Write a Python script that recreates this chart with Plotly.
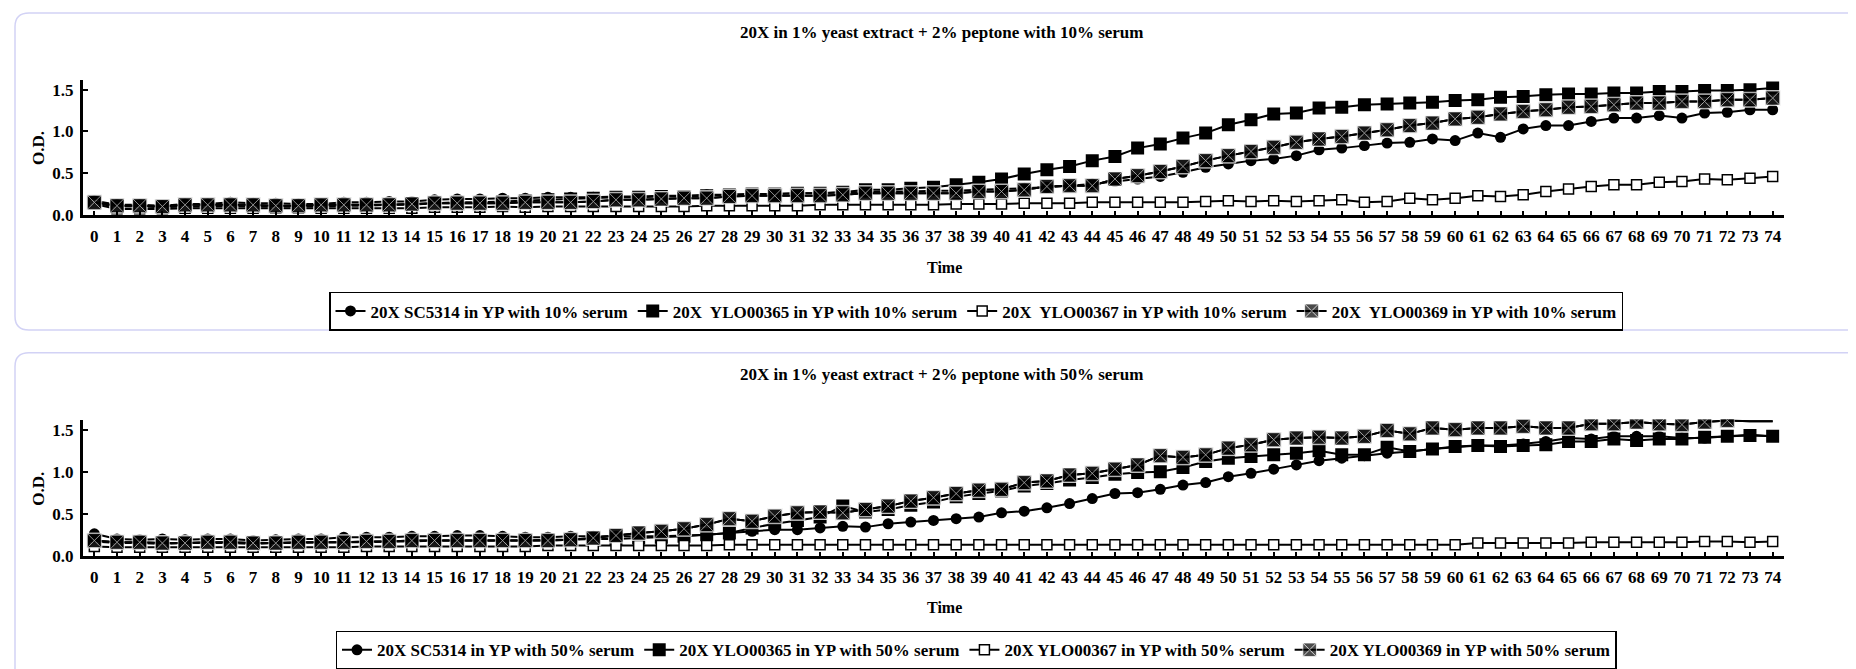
import plotly.graph_objects as go

hours = list(range(75))
tick_labels = [str(h) for h in hours]

titles = ["20X in 1% yeast extract + 2% peptone with 10% serum",
          "20X in 1% yeast extract + 2% peptone with 50% serum"]

names_10 = ["20X SC5314 in YP with 10% serum",
            "20X\u00a0 YLO00365 in YP with 10% serum",
            "20X\u00a0 YLO00367 in YP with 10% serum",
            "20X\u00a0 YLO00369 in YP with 10% serum"]
names_50 = ["20X SC5314 in YP with 50% serum",
            "20X YLO00365 in YP with 50% serum",
            "20X YLO00367 in YP with 50% serum",
            "20X YLO00369 in YP with 50% serum"]

sc5314_10 = [0.17,0.12,0.12,0.11,0.13,0.13,0.15,0.14,0.14,0.13,0.13,0.15,0.15,0.16,0.16,0.18,0.19,0.19,0.20,0.20,0.21,0.21,
             0.21,0.22,0.22,0.23,0.23,0.24,0.24,0.25,0.25,0.26,0.26,0.27,0.27,0.28,0.28,0.29,0.29,0.30,0.31,
             0.32,0.33,0.35,0.37,0.40,0.43,0.46,0.51,
             0.57,0.61,0.65,0.67,0.71,0.78,0.80,0.83,0.86,0.87,0.91,0.89,0.98,0.93,1.03,1.07,1.07,1.12,1.16,1.16,1.19,1.16,1.22,1.23,1.26,1.26]
ylo365_10 = [0.14,0.10,0.10,0.09,0.10,0.10,0.11,0.10,0.10,0.10,0.10,0.11,0.11,0.12,0.12,0.14,0.15,0.15,0.16,0.17,0.18,0.19,
             0.20,0.21,0.21,0.22,0.22,0.23,0.24,0.25,0.25,0.26,0.26,0.27,0.30,0.30,0.32,0.33,0.36,0.39,0.43,0.49,0.54,0.58,0.65,0.70,0.80,0.85,0.92,
             0.98,1.08,1.14,1.21,1.22,1.28,1.29,1.32,1.33,1.34,1.35,1.37,1.38,1.41,1.42,1.44,1.45,1.45,1.46,1.46,1.48,1.48,1.49,1.49,1.50,1.52]
ylo367_10 = [0.13,0.07,0.07,0.07,0.08,0.08,0.08,0.08,0.08,0.08,0.08,0.08,0.08,0.08,0.08,0.09,0.09,0.09,0.10,0.09,0.10,0.10,
             0.10,0.10,0.10,0.10,0.10,0.11,0.11,0.11,0.11,0.11,0.12,0.12,0.12,0.12,0.12,0.12,0.13,0.13,0.13,0.14,0.14,0.14,0.15,0.15,0.15,0.15,0.15,
             0.16,0.17,0.16,0.17,0.16,0.17,0.18,0.15,0.16,0.20,0.18,0.20,0.23,0.22,0.24,0.28,0.31,0.34,0.36,0.36,0.39,0.40,0.43,0.42,0.44,0.46]
ylo369_10 = [0.15,0.11,0.11,0.10,0.12,0.12,0.12,0.12,0.11,0.11,0.12,0.12,0.12,0.12,0.13,0.14,0.14,0.14,0.14,0.15,0.15,0.15,
             0.16,0.18,0.18,0.19,0.20,0.20,0.22,0.23,0.23,0.23,0.23,0.24,0.26,0.26,0.26,0.26,0.26,0.28,0.28,0.30,0.34,0.35,0.35,0.43,0.47,0.52,0.58,
             0.65,0.71,0.76,0.81,0.87,0.91,0.94,0.98,1.02,1.07,1.10,1.15,1.17,1.21,1.24,1.26,1.29,1.30,1.32,1.34,1.34,1.36,1.36,1.38,1.38,1.40]

sc5314_50 = [0.26,0.20,0.19,0.20,0.19,0.20,0.20,0.18,0.19,0.20,0.20,0.22,0.22,0.22,0.23,0.23,0.24,0.24,0.23,0.22,0.22,0.23,
             0.23,0.23,0.23,0.23,0.24,0.25,0.27,0.29,0.31,0.31,0.33,0.35,0.34,0.38,0.40,0.42,0.44,0.46,0.51,0.53,0.57,0.62,0.68,0.74,0.75,0.79,0.84,
             0.87,0.94,0.98,1.03,1.08,1.13,1.16,1.19,1.22,1.24,1.27,1.29,1.31,1.31,1.33,1.36,1.40,1.39,1.42,1.42,1.42,1.40,1.40,1.42,1.44,1.42]
ylo365_50 = [0.17,0.15,0.15,0.14,0.15,0.15,0.15,0.14,0.15,0.15,0.16,0.16,0.16,0.17,0.17,0.18,0.18,0.18,0.18,0.18,0.19,0.19,
             0.20,0.20,0.21,0.22,0.23,0.25,0.27,0.33,0.38,0.42,0.46,0.59,0.52,0.55,0.60,0.64,0.70,0.74,0.77,0.83,0.86,0.90,0.93,0.97,0.99,1.00,1.05,
             1.12,1.16,1.18,1.20,1.22,1.25,1.20,1.20,1.29,1.24,1.27,1.30,1.31,1.30,1.31,1.32,1.36,1.36,1.39,1.37,1.39,1.39,1.41,1.42,1.43,1.42]
ylo367_50 = [0.11,0.10,0.10,0.10,0.10,0.10,0.10,0.10,0.10,0.10,0.10,0.10,0.11,0.11,0.11,0.11,0.11,0.11,0.11,0.11,0.12,0.12,
             0.12,0.12,0.12,0.12,0.12,0.12,0.13,0.13,0.13,0.13,0.13,0.13,0.13,0.13,0.13,0.13,0.13,0.13,0.13,0.13,0.13,0.13,0.13,0.13,0.13,0.13,0.13,
             0.13,0.13,0.13,0.13,0.13,0.13,0.13,0.13,0.13,0.13,0.13,0.13,0.15,0.15,0.15,0.15,0.15,0.16,0.16,0.16,0.16,0.16,0.17,0.17,0.16,0.17]
ylo369_50 = [0.18,0.16,0.16,0.15,0.15,0.16,0.16,0.15,0.15,0.16,0.16,0.16,0.17,0.17,0.18,0.18,0.18,0.18,0.18,0.18,0.18,0.19,
             0.21,0.24,0.27,0.29,0.32,0.37,0.44,0.41,0.47,0.51,0.52,0.51,0.55,0.59,0.65,0.69,0.74,0.78,0.79,0.87,0.89,0.96,0.98,1.03,1.08,1.19,1.17,
             1.20,1.28,1.32,1.38,1.40,1.41,1.40,1.42,1.49,1.45,1.52,1.50,1.52,1.52,1.54,1.52,1.52,1.57,1.57,1.59,1.57,1.56,1.59,1.61,1.60,1.60]
# the 50% YLO00369 line runs on past its last marker (hour 72)
ylo369_50_marker_hidden = [73, 74]

W, H = 1856, 669
FONT = "Liberation Serif"


def px_x(p):
    return p / W


def px_y(p):
    return 1 - p / H


fig = go.Figure()


def add_panel(series, names, xa, ya, legend, hidden=()):
    sc, y365, y367, y369 = series
    common = dict(x=hours, xaxis=xa, yaxis=ya, legend=legend, mode="lines+markers",
                  line=dict(color="black", width=2))
    fig.add_trace(go.Scatter(y=sc, name=names[0],
                             marker=dict(symbol="circle", size=11, color="black"), **common))
    fig.add_trace(go.Scatter(y=y365, name=names[1],
                             marker=dict(symbol="square", size=13, color="black"), **common))
    fig.add_trace(go.Scatter(y=y367, name=names[2],
                             marker=dict(symbol="square", size=10, color="white",
                                         line=dict(color="black", width=1.5)), **common))
    sizes_under = [0 if h in hidden else 15 for h in hours]
    sizes_top = [0 if h in hidden else 14 for h in hours]
    fig.add_trace(go.Scatter(y=y369, name=names[3], showlegend=False,
                             marker=dict(symbol="square", size=sizes_under, color="black"), **common))
    fig.add_trace(go.Scatter(y=y369, name=names[3],
                             marker=dict(symbol="square-x", size=sizes_top, color="black",
                                         line=dict(color="white", width=0.8)), **common))


add_panel((sc5314_10, ylo365_10, ylo367_10, ylo369_10), names_10, "x", "y", "legend")
add_panel((sc5314_50, ylo365_50, ylo367_50, ylo369_50), names_50, "x2", "y2", "legend2",
          hidden=ylo369_50_marker_hidden)

x_left, x_right = 75, 1776
p1_zero, p1_top = 210, 72.8
p2_zero, p2_top = 556, 417.8

tickfont = dict(family=FONT, size=17, color="black", weight="bold")
ytickfont = dict(family=FONT, size=17, color="black", weight="bold")

xcommon = dict(range=[-0.5, 74.5], tickmode="array", tickvals=hours, ticktext=tick_labels,
               showline=True, linecolor="black", linewidth=3, ticks="inside", ticklen=4,
               tickwidth=1.5, tickcolor="black", showgrid=False, zeroline=False,
               tickfont=tickfont, ticklabelstandoff=4,
               domain=[px_x(x_left), px_x(x_right)], fixedrange=True)
ycommon = dict(range=[0, 1.62], tickvals=[0, 0.5, 1.0, 1.5], ticktext=["0.0", "0.5", "1.0", "1.5"],
               showline=True, linecolor="black", linewidth=3, ticks="inside", ticklen=5,
               tickwidth=2, tickcolor="black", showgrid=False, zeroline=False,
               tickfont=ytickfont, ticklabelstandoff=3, fixedrange=True)

legcommon = dict(orientation="h", xanchor="center", yanchor="middle",
                 bgcolor="white", bordercolor="black", borderwidth=1.5,
                 font=dict(family=FONT, size=17, color="black", weight="bold"),
                 itemwidth=30, tracegroupgap=0)


def rounded_box(x0, y0, x1, y1, r=14):
    X0, X1 = px_x(x0), px_x(x1)
    Y0, Y1 = px_y(y0), px_y(y1)
    rx, ry = r / W, r / H
    return (f"M {X0+rx},{Y0} L {X1-rx},{Y0} Q {X1},{Y0} {X1},{Y0-ry} "
            f"L {X1},{Y1+ry} Q {X1},{Y1} {X1-rx},{Y1} L {X0+rx},{Y1} "
            f"Q {X0},{Y1} {X0},{Y1+ry} L {X0},{Y0-ry} Q {X0},{Y0} {X0+rx},{Y0} Z")


shapes = [
    dict(type="path", xref="paper", yref="paper", path=rounded_box(7, 5, 1854, 327),
         line=dict(color="#d2d2f5", width=1.5), layer="below"),
    dict(type="path", xref="paper", yref="paper", path=rounded_box(7, 350, 1854, 690),
         line=dict(color="#d2d2f5", width=1.5), layer="below"),
]

ann_font = dict(family=FONT, size=17, color="black", weight="bold")
annotations = [
    dict(text=titles[0], x=px_x(934), y=px_y(25), xref="paper", yref="paper",
         showarrow=False, font=ann_font, xanchor="center", yanchor="middle"),
    dict(text=titles[1], x=px_x(934), y=px_y(372), xref="paper", yref="paper",
         showarrow=False, font=ann_font, xanchor="center", yanchor="middle"),
    dict(text="Time", x=px_x(936), y=px_y(263), xref="paper", yref="paper",
         showarrow=False, font=dict(family=FONT, size=16, color="black", weight="bold"),
         xanchor="center", yanchor="middle"),
    dict(text="Time", x=px_x(936), y=px_y(609), xref="paper", yref="paper",
         showarrow=False, font=dict(family=FONT, size=16, color="black", weight="bold"),
         xanchor="center", yanchor="middle"),
    dict(text="O.D.", x=px_x(31), y=px_y(142), xref="paper", yref="paper", textangle=-90,
         showarrow=False, font=dict(family=FONT, size=17, color="black", weight="bold"),
         xanchor="center", yanchor="middle"),
    dict(text="O.D.", x=px_x(31), y=px_y(488), xref="paper", yref="paper", textangle=-90,
         showarrow=False, font=dict(family=FONT, size=17, color="black", weight="bold"),
         xanchor="center", yanchor="middle"),
]

fig.update_layout(
    width=W, height=H, margin=dict(l=0, r=0, t=0, b=0),
    paper_bgcolor="white", plot_bgcolor="white",
    showlegend=True,
    xaxis=dict(anchor="y", **xcommon),
    xaxis2=dict(anchor="y2", **xcommon),
    yaxis=dict(anchor="x", domain=[px_y(p1_zero), px_y(p1_top)], **ycommon),
    yaxis2=dict(anchor="x2", domain=[px_y(p2_zero), px_y(p2_top)], **ycommon),
    legend=dict(x=px_x(968), y=px_y(308), **legcommon),
    legend2=dict(x=px_x(968), y=px_y(652), **legcommon),
    shapes=shapes,
    annotations=annotations,
)

fig.write_html("out.html")
